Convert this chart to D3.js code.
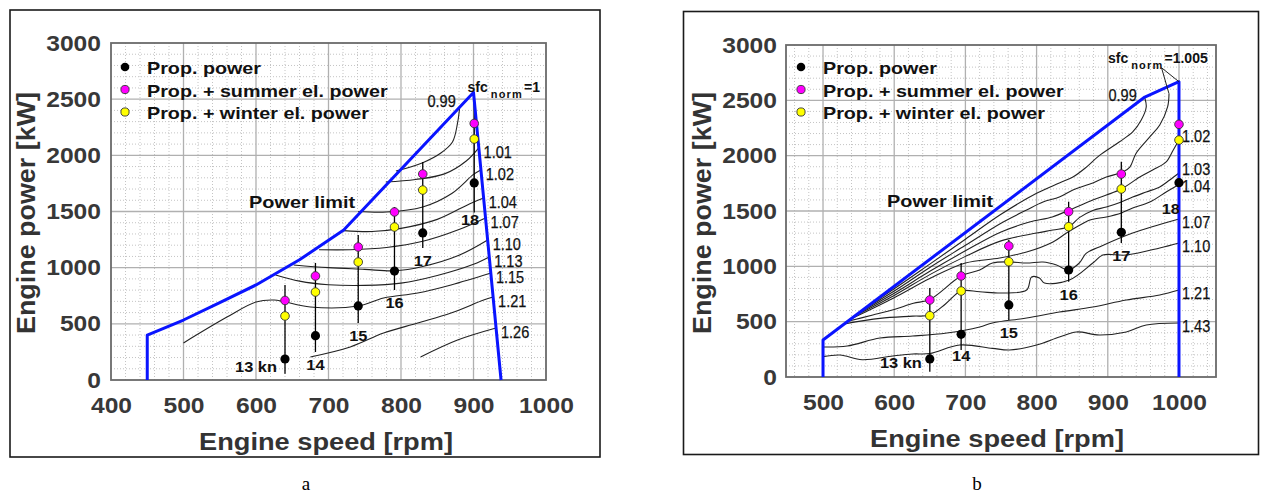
<!DOCTYPE html>
<html><head><meta charset="utf-8">
<script src="https://cdn.jsdelivr.net/npm/d3@7"></script>
<style>
body{margin:0;background:#fff}
text{font-family:"Liberation Sans",Arial,sans-serif}
</style>
</head><body>
<svg id="c" width="1269" height="501"></svg>
<script>
// ---------------- DATA ----------------
const yTicks = [0,500,1000,1500,2000,2500,3000];
const xTicksA = [400,500,600,700,800,900,1000];
const xTicksB = [500,600,700,800,900,1000];
const legendLabels = ["Prop. power","Prop. + summer el. power","Prop. + winter el. power"];
const speedLabels = ["13 kn","14","15","16","17","18"];

// Panel a
const aSpeed  = [640,682,741,791,830,901];
const aProp   = [187,395,659,970,1309,1754];
const aSummer = [708,926,1184,1496,1834,2284];
const aWinter = [570,783,1050,1362,1691,2145];
const aLineTop = [846,1042,1291,1540,1941,2520];
const aLineBot = [55,249,507,801,1175,1490];
const aLimit = [[450,0],[450,400],[500,534],[550,688],[600,846],[660,1070],[721,1335],[900,2560],[938,0]];
const aC099 = [[793,1860],[830,1935],[855,2021],[871,2119],[878,2288],[881,2430]];
const aC101 = [[779,1763],[820,1785],[860,1835],[890,1950],[907,2065]];
const aC102 = [[741,1500],[780,1495],[830,1540],[870,1660],[900,1830],[910,1870]];
const aC104 = [[721,1330],[760,1322],[800,1350],[850,1430],[895,1570],[914,1620]];
const aC107 = [[687,1160],[730,1160],[780,1180],[830,1235],[880,1340],[916.5,1443]];
const aC110 = [[652,1024],[700,1000],[750,985],[791,972],[830,1010],[880,1110],[919.5,1246]];
const aC113 = [[627,935],[660,880],[700,848],[750,842],[800,862],[850,930],[900,1030],[921.7,1095]];
const aC115 = [[500,330],[560,560],[600,694],[625,712],[675,650],[741,659],[776,730],[823,774],[869,846],[924,952]];
const aC121 = [[675,205],[730,294],[776,418],[823,507],[869,596],[914,712],[927,739]];
const aC126 = [[827,205],[878,356],[931,463]];
const aContourLabels = ["0.99","1.01","1.02","1.04","1.07","1.10","1.13","1.15","1.21","1.26"];
const aContours = [aC099,aC101,aC102,aC104,aC107,aC110,aC113,aC115,aC121,aC126];

// Panel b
const bSpeed  = [650,694,761,845,919,1000];
const bProp   = [163,386,651,967,1307,1756];
const bSummer = [696,913,1184,1494,1834,2283];
const bWinter = [554,777,1042,1358,1699,2141];
const bLineTop = [804,1030,1238,1584,1946,2283];
const bLineBot = [48,244,515,861,1210,1756];
const bLimit = [[500,0],[500,334],[952,2530],[1000,2668],[1000,0]];
const bC099 = [[560,626],[600,797],[650,1020],[700,1245],[750,1470],[800,1660],[832,1753],[851,1807],[870,1897],[888,2000],[916,2123],[935,2214],[947,2322],[954,2440],[952,2521]];
const bC1005 = [[555,602],[600,777],[650,990],[700,1190],[750,1390],[786,1509],[809,1581],[832,1626],[851,1690],[879,1753],[898,1807],[921,1852],[931,1897],[940,2024],[959,2169],[973,2277],[984,2440],[986,2560]];
const bC102 = [[550,577],[600,757],[650,955],[700,1140],[750,1310],[790,1400],[822,1446],[846,1509],[879,1599],[898,1644],[919,1699],[945,1807],[963,1870],[982,1943],[992,2051],[1000,2141]];
const bC103 = [[545,553],[600,737],[650,925],[700,1090],[750,1230],[800,1301],[823,1328],[846,1360],[860,1440],[879,1505],[898,1536],[919,1581],[935,1626],[954,1672],[973,1717],[987,1780],[1000,1843]];
const bC104 = [[540,528],[600,717],[650,890],[700,1030],[748,1075],[786,1129],[823,1220],[842,1301],[856,1355],[875,1419],[898,1446],[919,1482],[935,1527],[959,1581],[982,1672],[1000,1740]];
const bC107 = [[535,504],[570,560],[600,610],[627,666],[650,700],[694,912],[720,967],[738,1030],[762,1040],[786,1030],[809,1039],[828,1012],[845,967],[860,1030],[870,1120],[888,1175],[935,1301],[1000,1428]];
const bC110 = [[530,480],[580,530],[626,550],[650,560],[672,660],[694,777],[720,770],[752,759],[786,786],[793,904],[804,895],[811,849],[846,876],[879,1030],[893,1102],[926,1102],[973,1166],[1000,1211]];
const bC121 = [[500,271],[534,280],[580,352],[626,370],[674,398],[720,452],[738,488],[786,533],[832,587],[879,632],[926,696],[973,741],[1000,786]];
const bC143 = [[500,184],[524,199],[555,156],[598,190],[626,208],[650,212],[692,289],[738,259],[762,244],[800,289],[832,361],[856,407],[888,380],[926,407],[954,470],[1000,488]];
const bContourLabels = ["0.99","","1.02","1.03","1.04","1.07","1.10","1.21","1.43"];
const bContours = [bC099,bC1005,bC102,bC103,bC104,bC107,bC110,bC121,bC143];

// ---------------- DRAWING ----------------
const svg = d3.select("#c");
function stretch(sel,k){
  sel.each(function(){
    const w=this.getComputedTextLength();
    if(w>0){this.setAttribute("textLength",(w*k).toFixed(1));this.setAttribute("lengthAdjust","spacingAndGlyphs");}
  });
}

function drawPanel(P){
  const x=d3.scaleLinear().domain(P.xDomain).range([P.L,P.R]);
  const y=d3.scaleLinear().domain([0,3000]).range([P.B,P.T]);
  const g=svg.append("g");

  g.append("rect").attr("x",P.frame[0]).attr("y",P.frame[1]).attr("width",P.frame[2]).attr("height",P.frame[3])
   .attr("fill","none").attr("stroke","#1a1a1a").attr("stroke-width",1.6);

  // minor grid
  const xm=d3.range(Math.ceil(P.xDomain[0]/20)*20,P.xDomain[1],20).filter(v=>v%100!==0&&v>P.xDomain[0]);
  const ym=d3.range(100,3000,100).filter(v=>v%500!==0);
  g.selectAll(".xm").data(xm).join("line").attr("x1",d=>x(d)).attr("x2",d=>x(d)).attr("y1",P.T).attr("y2",P.B)
   .attr("stroke","#c4c4c4").attr("stroke-width",1).attr("stroke-dasharray","1,2");
  g.selectAll(".ym").data(ym).join("line").attr("y1",d=>y(d)).attr("y2",d=>y(d)).attr("x1",P.L).attr("x2",P.R)
   .attr("stroke","#c4c4c4").attr("stroke-width",1).attr("stroke-dasharray","1,2");
  // major grid
  const xM=d3.range(Math.ceil(P.xDomain[0]/100)*100,P.xDomain[1]+0.01,100).filter(v=>v>P.xDomain[0]&&v<P.xDomain[1]);
  const yM=[500,1000,1500,2000,2500];
  g.selectAll(".xM").data(xM).join("line").attr("x1",d=>x(d)).attr("x2",d=>x(d)).attr("y1",P.T).attr("y2",P.B)
   .attr("stroke","#b0b0b0").attr("stroke-width",1.3);
  g.selectAll(".yM").data(yM).join("line").attr("y1",d=>y(d)).attr("y2",d=>y(d)).attr("x1",P.L).attr("x2",P.R)
   .attr("stroke","#b0b0b0").attr("stroke-width",1.3);

  // axes
  const ax=g.append("g").attr("transform",`translate(0,${P.B})`)
    .call(d3.axisBottom(x).tickValues(P.xTicks).tickSize(0).tickPadding(17).tickFormat(d3.format("d")));
  const ay=g.append("g").attr("transform",`translate(${P.L},0)`)
    .call(d3.axisLeft(y).tickValues(yTicks).tickSize(0).tickPadding(P.yPad).tickFormat(d3.format("d")));
  [ax,ay].forEach(a=>{a.select(".domain").remove();
    a.selectAll("text").attr("font-size",22).attr("font-weight","bold").attr("fill","#383838")
     .style("font-family","'Liberation Sans',Arial,sans-serif");
    stretch(a.selectAll("text"),1.12);});

  // plot border
  g.append("rect").attr("x",P.L).attr("y",P.T).attr("width",P.R-P.L).attr("height",P.B-P.T)
   .attr("fill","none").attr("stroke","#6a6a6a").attr("stroke-width",1.8);

  // axis titles
  const xt=g.append("text").attr("x",P.xTitle[0]).attr("y",P.xTitle[1]).attr("text-anchor","middle")
   .attr("font-size",23).attr("font-weight","bold").attr("fill","#333").text("Engine speed [rpm]");
  xt.attr("textLength",254).attr("lengthAdjust","spacingAndGlyphs");
  const yt=g.append("text").attr("transform",`translate(${P.yTitle[0]},${P.yTitle[1]}) rotate(-90)`).attr("text-anchor","middle")
   .attr("font-size",25).attr("font-weight","bold").attr("fill","#333").text("Engine power [kW]");
  yt.attr("textLength",242).attr("lengthAdjust","spacingAndGlyphs");

  // contours
  const cl=d3.line().x(d=>x(d[0])).y(d=>y(d[1])).curve(d3.curveCatmullRom.alpha(0.5));
  P.contours.forEach(c=>{
    g.append("path").attr("d",cl(c)).attr("fill","none").attr("stroke","#222").attr("stroke-width",1.1);
  });

  // data vertical lines
  P.speed.forEach((s,i)=>{
    g.append("line").attr("x1",x(s)).attr("x2",x(s)).attr("y1",y(P.top[i])).attr("y2",y(P.bot[i]))
     .attr("stroke","#000").attr("stroke-width",1.3);
  });

  // power limit
  g.append("path").attr("d",d3.line().x(d=>x(d[0])).y(d=>y(d[1]))(P.limit))
   .attr("fill","none").attr("stroke","#0a14ff").attr("stroke-width",3).attr("stroke-linejoin","round");

  // contour labels
  P.contours.forEach((c,i)=>{
    const lab=P.cLabels[i]; if(!lab) return;
    const e=c[c.length-1];
    let px=x(e[0])+P.labDx, py=y(e[1])+(P.labDy[lab]!==undefined?P.labDy[lab]:P.labDyDefault), anchor="start";
    if(lab==="0.99"){px=x(e[0])+P.l099[0];py=y(e[1])+P.l099[1];anchor="end";}
    const t=g.append("text").attr("x",px).attr("y",py).attr("text-anchor",anchor)
      .attr("font-size",16.5).attr("fill","#111").attr("stroke","#111").attr("stroke-width",0.25).text(lab);
    stretch(t,0.88);
  });

  // dots
  const dot=(cx,cy,fill,r,stroke)=>g.append("circle").attr("cx",cx).attr("cy",cy).attr("r",r).attr("fill",fill)
     .attr("stroke",stroke?"#333":"none").attr("stroke-width",0.9);
  P.speed.forEach((s,i)=>{
    dot(x(s),y(P.prop[i]),"#000",4.6,false);
    dot(x(s),y(P.winter[i]),"#ffff00",4.3,true);
    dot(x(s),y(P.summer[i]),"#ff00ff",4.3,true);
  });

  // speed labels
  P.speed.forEach((s,i)=>{
    const pl=P.speedPos(i,x(s),y(P.prop[i]),y(P.bot[i]));
    const t=g.append("text").attr("x",pl[0]).attr("y",pl[1]).attr("text-anchor",pl[2])
      .attr("font-size",14).attr("font-weight","bold").attr("fill","#111").text(speedLabels[i]);
    stretch(t,1.17);
  });

  // sfc norm label
  const pk=P.limit.reduce((a,b)=>b[1]>a[1]?b:a);
  const sx=x(pk[0])+P.sfcOff[0], sy=y(pk[1])+P.sfcOff[1];
  const st=g.append("text").attr("x",sx).attr("y",sy).attr("font-size",14).attr("font-weight","bold").attr("fill","#111");
  st.append("tspan").text("sfc");
  const nt=st.append("tspan").attr("dx",3).attr("dy",6).attr("font-size",11).attr("letter-spacing",1.2).text("norm");
  st.append("tspan").attr("dy",-6).attr("dx",1).text(P.sfcVal);
  if(P.leader){
    const c=P.contours[1]; const e=c[c.length-1];
    const bb=nt.node().getBBox();
    const lx=bb.x+bb.width-2, ly=bb.y+bb.height-3;
    g.append("path").attr("d",`M${x(pk[0])},${y(pk[1])}L${lx},${ly}L${x(e[0])},${y(e[1])}`)
     .attr("fill","none").attr("stroke","#222").attr("stroke-width",1);
  }

  // power limit label
  const pt=g.append("text").attr("x",P.plPos[0]).attr("y",P.plPos[1]).attr("font-size",17).attr("font-weight","bold")
    .attr("fill","#111").text("Power limit");
  stretch(pt,1.17);

  // legend
  const legFill=["#000","#ff00ff","#ffff00"];
  legendLabels.forEach((l,i)=>{
    dot(P.leg[0],P.leg[1]+i*22.5,legFill[i],i===0?4.3:4.1,i>0);
    const t=g.append("text").attr("x",P.leg[0]+22).attr("y",P.leg[1]+7+i*22.5).attr("font-size",17)
      .attr("font-weight","bold").attr("fill","#111").text(l);
    stretch(t,1.16);
  });
}

drawPanel({
  xDomain:[400,1000], xTicks:xTicksA, L:111, R:546, T:43, B:380, yPad:10,
  frame:[10,10,590,447], xTitle:[326,450], yTitle:[35,213],
  contours:aContours, cLabels:aContourLabels, labDx:5, labDyDefault:10, labDy:{}, l099:[-4,0],
  speed:aSpeed, prop:aProp, summer:aSummer, winter:aWinter, top:aLineTop, bot:aLineBot, limit:aLimit,
  speedPos:(i,px,pp,pb)=> i===0?[px-8,pp+13,"end"]: i===5?[px+5,pb+12,"end"]:[px,pb+18,"middle"],
  sfcOff:[-6,0], sfcVal:"=1", leader:false, plPos:[249,208], leg:[125,67]
});
drawPanel({
  xDomain:[448,1052], xTicks:xTicksB, L:786, R:1216, T:45, B:377, yPad:9,
  frame:[683.5,11.5,575,443], xTitle:[997,447], yTitle:[711,213],
  contours:bContours, cLabels:bContourLabels, labDx:3, labDyDefault:9, labDy:{"1.02":2,"1.03":2,"1.04":8}, l099:[-8,3],
  speed:bSpeed, prop:bProp, summer:bSummer, winter:bWinter, top:bLineTop, bot:bLineBot, limit:bLimit,
  speedPos:(i,px,pp,pb)=> i===0?[px-8,pp+9,"end"]: i===5?[px+1,pp+31,"end"]: i===1?[px,pb+11,"middle"]:[px,pb+18,"middle"],
  sfcOff:[-71,-19], sfcVal:"=1.005", leader:true, plPos:[887,207], leg:[801,67]
});

// captions
svg.append("text").attr("x",306).attr("y",490).attr("text-anchor","middle").attr("font-size",19)
  .style("font-family","'Liberation Serif','Times New Roman',serif").text("a");
svg.append("text").attr("x",977).attr("y",490).attr("text-anchor","middle").attr("font-size",19)
  .style("font-family","'Liberation Serif','Times New Roman',serif").text("b");
</script>
</body></html>
